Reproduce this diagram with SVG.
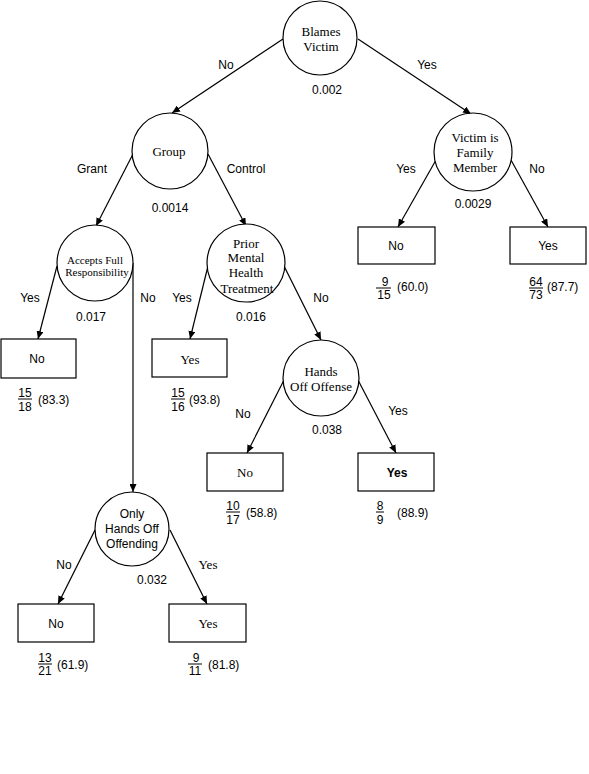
<svg xmlns="http://www.w3.org/2000/svg" width="589" height="774" viewBox="0 0 589 774">
<defs>
<marker id="arr" markerUnits="userSpaceOnUse" markerWidth="8" markerHeight="7" refX="8" refY="3.5" orient="auto">
<path d="M0,0 L8,3.5 L0,7 z" fill="#000"/>
</marker>
<style>
.c{fill:#fff;stroke:#000;stroke-width:1.2}
.b{fill:#fff;stroke:#000;stroke-width:1.2}
.e{stroke:#000;stroke-width:1.2;fill:none;marker-end:url(#arr)}
.s{font-family:"Liberation Sans",Arial,sans-serif;font-size:12px;fill:#000}
.f{font-family:"Liberation Serif","Times New Roman",serif;font-size:13px;fill:#000}
.fs{font-family:"Liberation Serif","Times New Roman",serif;font-size:11px;fill:#000}
.m{text-anchor:middle}
.u{stroke:#000;stroke-width:1}
</style>
</defs>
<rect width="589" height="774" fill="#fff"/>
<g id="connectors">
<line class="e" x1="283" y1="39" x2="172" y2="113"/>
<line class="e" x1="358" y1="39" x2="471" y2="114"/>
<line class="e" x1="133" y1="154" x2="96" y2="226"/>
<line class="e" x1="208" y1="154" x2="246" y2="226"/>
<line class="e" x1="436" y1="160" x2="398" y2="227"/>
<line class="e" x1="511" y1="160" x2="548" y2="227"/>
<line class="e" x1="57" y1="266" x2="38" y2="339"/>
<polyline class="e" points="133,263 133,492"/>
<line class="e" x1="208" y1="266" x2="190" y2="339"/>
<line class="e" x1="284" y1="266" x2="321" y2="340"/>
<line class="e" x1="284" y1="380" x2="247" y2="453"/>
<line class="e" x1="358" y1="380" x2="396" y2="453"/>
<line class="e" x1="95" y1="530" x2="58" y2="604"/>
<line class="e" x1="170" y1="530" x2="207" y2="604"/>
</g>
<g id="edge-labels">
<text class="s m" x="226" y="69">No</text>
<text class="s m" x="427" y="69">Yes</text>
<text class="s m" x="92" y="173">Grant</text>
<text class="s m" x="246" y="173">Control</text>
<text class="s m" x="406" y="173">Yes</text>
<text class="s m" x="537" y="173">No</text>
<text class="s m" x="30" y="302">Yes</text>
<text class="s m" x="148" y="302">No</text>
<text class="s m" x="182" y="302">Yes</text>
<text class="s m" x="321" y="302">No</text>
<text class="s m" x="243" y="418">No</text>
<text class="s m" x="398" y="415">Yes</text>
<text class="s m" x="64" y="569">No</text>
<text class="f m" x="208" y="569">Yes</text>
</g>
<g id="n-blames">
<circle class="c" cx="320" cy="38" r="37"/>
<text class="f m" x="321" y="36">Blames</text>
<text class="f m" x="321" y="51">Victim</text>
<text class="s m" x="327" y="94">0.002</text>
</g>
<g id="n-group">
<circle class="c" cx="170" cy="151" r="38"/>
<text class="f m" x="169" y="156">Group</text>
<text class="s m" x="170" y="212">0.0014</text>
</g>
<g id="n-victim">
<circle class="c" cx="473" cy="152" r="39"/>
<text class="f m" x="475" y="142">Victim is</text>
<text class="f m" x="475" y="157">Family</text>
<text class="f m" x="475" y="172">Member</text>
<text class="s m" x="473" y="208">0.0029</text>
</g>
<g id="n-accepts">
<circle class="c" cx="95" cy="263" r="38"/>
<text class="fs m" x="95" y="264">Accepts Full</text>
<text class="fs m" x="97" y="276">Responsibility</text>
<text class="s m" x="91" y="321">0.017</text>
</g>
<g id="n-prior">
<circle class="c" cx="246" cy="263" r="39"/>
<text class="f m" x="246" y="248">Prior</text>
<text class="f m" x="246" y="262">Mental</text>
<text class="f m" x="246" y="277">Health</text>
<text class="f m" x="247" y="293">Treatment</text>
<text class="s m" x="251" y="321">0.016</text>
</g>
<g id="n-hands">
<circle class="c" cx="321" cy="378" r="38"/>
<text class="f m" x="321" y="376">Hands</text>
<text class="f m" x="321" y="391">Off Offense</text>
<text class="s m" x="327" y="434">0.038</text>
</g>
<g id="n-only">
<circle class="c" cx="132" cy="529" r="37"/>
<text class="s m" x="132" y="518">Only</text>
<text class="s m" x="132" y="533">Hands Off</text>
<text class="s m" x="132" y="548">Offending</text>
<text class="s m" x="152" y="584">0.032</text>
</g>
<g id="leaf-vno">
<rect class="b" x="358" y="227" width="77" height="37"/>
<text class="s m" x="396" y="250">No</text>
<text class="s m" x="385" y="286"> 9</text>
<line class="u" x1="376" y1="288" x2="391" y2="288"/>
<text class="s m" x="384" y="299">15</text>
<text class="s" x="397" y="291">(60.0)</text>
</g>
<g id="leaf-vyes">
<rect class="b" x="510" y="227" width="76" height="37"/>
<text class="s m" x="548" y="250">Yes</text>
<text class="s m" x="536" y="286">64</text>
<line class="u" x1="529" y1="288" x2="543" y2="288"/>
<text class="s m" x="536" y="299">73</text>
<text class="s" x="547" y="291">(87.7)</text>
</g>
<g id="leaf-ano">
<rect class="b" x="1" y="339" width="75" height="39"/>
<text class="s m" x="37" y="363">No</text>
<text class="s m" x="25" y="397">15</text>
<line class="u" x1="18" y1="399" x2="32" y2="399"/>
<text class="s m" x="25" y="411">18</text>
<text class="s" x="38" y="404">(83.3)</text>
</g>
<g id="leaf-pyes">
<rect class="b" x="152" y="339" width="75" height="38"/>
<text class="f m" x="190" y="364">Yes</text>
<text class="s m" x="178" y="397">15</text>
<line class="u" x1="171" y1="399" x2="185" y2="399"/>
<text class="s m" x="178" y="411">16</text>
<text class="s" x="189" y="404">(93.8)</text>
</g>
<g id="leaf-hno">
<rect class="b" x="207" y="453" width="76" height="38"/>
<text class="f m" x="245" y="477">No</text>
<text class="s m" x="233" y="510">10</text>
<line class="u" x1="226" y1="512" x2="240" y2="512"/>
<text class="s m" x="233" y="524">17</text>
<text class="s" x="246" y="517">(58.8)</text>
</g>
<g id="leaf-hyes">
<rect class="b" x="358" y="453" width="76" height="38"/>
<text class="s m" x="397" y="477" font-weight="bold">Yes</text>
<text class="s m" x="380" y="510">8</text>
<line class="u" x1="376" y1="512" x2="384" y2="512"/>
<text class="s m" x="380" y="524">9</text>
<text class="s" x="397" y="517">(88.9)</text>
</g>
<g id="leaf-ono">
<rect class="b" x="18" y="604" width="76" height="38"/>
<text class="s m" x="56" y="628">No</text>
<text class="s m" x="45" y="662">13</text>
<line class="u" x1="38" y1="664" x2="52" y2="664"/>
<text class="s m" x="45" y="675">21</text>
<text class="s" x="57" y="669">(61.9)</text>
</g>
<g id="leaf-oyes">
<rect class="b" x="169" y="604" width="77" height="38"/>
<text class="f m" x="208" y="628">Yes</text>
<text class="s m" x="196" y="662"> 9</text>
<line class="u" x1="188" y1="664" x2="202" y2="664"/>
<text class="s m" x="195" y="675">11</text>
<text class="s" x="208" y="669">(81.8)</text>
</g>
</svg>
